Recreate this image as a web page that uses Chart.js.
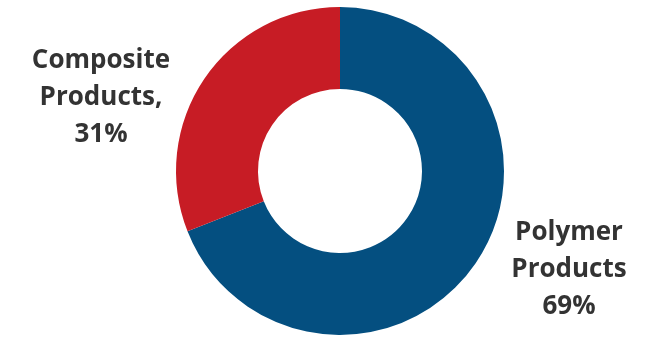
<!DOCTYPE html>
<html lang="en">
<head>
    <meta charset="UTF-8">
    <title>Product Mix</title>
    <style>
        body {
            margin: 0;
            padding: 0;
            background-color: #ffffff;
        }

        .chart-wrapper {
            width: 648px;
            height: 338px;
            position: relative;
        }
    </style>
</head>
<body>
    <div class="chart-wrapper">
        <canvas id="mixChart"></canvas>
    </div>

    <script src="https://cdn.jsdelivr.net/npm/chart.js"></script>
    <script>
        const categories = ['Polymer Products', 'Composite Products'];
        const shares = [69, 31];
        const sliceColors = ['#044f80', '#c71c25'];
        // label lines shown beside each slice
        const labelLines = [
            ['Polymer', 'Products', '69%'],
            ['Composite', 'Products,', '31%']
        ];

        // Draws the multi-line labels next to each slice
        const sliceLabels = {
            id: 'sliceLabels',
            afterDraw(chart, args, opts) {
                const ctx = chart.ctx;
                const arcs = chart.getDatasetMeta(0).data;
                ctx.save();
                ctx.font = opts.font;
                ctx.fillStyle = opts.color;
                ctx.textAlign = 'center';
                ctx.textBaseline = 'middle';
                arcs.forEach((arc, i) => {
                    const side = opts.offsets[i];
                    const x = arc.x + side.dx;
                    const y = arc.y + side.dy;
                    const lines = labelLines[i];
                    const start = y - (lines.length - 1) * opts.lineHeight / 2;
                    lines.forEach((line, j) => {
                        ctx.fillText(line, x, start + j * opts.lineHeight);
                    });
                });
                ctx.restore();
            }
        };

        const ctx = document.getElementById('mixChart').getContext('2d');
        const mixChart = new Chart(ctx, {
            type: 'doughnut',
            data: {
                labels: categories,
                datasets: [{
                    data: shares,
                    backgroundColor: sliceColors,
                    borderWidth: 0
                }]
            },
            options: {
                responsive: true,
                maintainAspectRatio: false,
                animation: false,
                cutout: '50%',
                layout: {
                    padding: { top: 7, bottom: 3, left: 32, right: 0 }
                },
                plugins: {
                    legend: { display: false },
                    tooltip: { enabled: false },
                    sliceLabels: {
                        font: 'bold 26px "Open Sans", sans-serif',
                        color: '#333333',
                        lineHeight: 37,
                        offsets: [
                            { dx: 229, dy: 99 },
                            { dx: -239, dy: -73 }
                        ]
                    }
                }
            },
            plugins: [sliceLabels]
        });
    </script>
</body>
</html>
